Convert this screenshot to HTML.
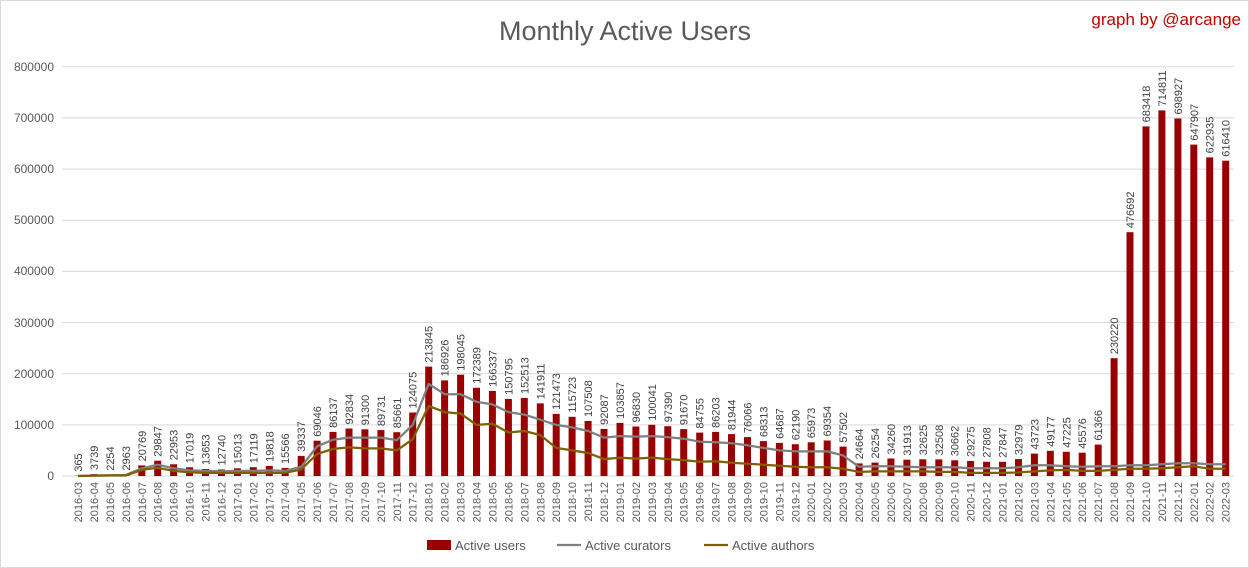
<!DOCTYPE html>
<html><head><meta charset="utf-8"><style>
html,body{margin:0;padding:0;background:#fff;}
svg{display:block;font-family:"Liberation Sans",sans-serif;}
.v{font-size:11px;fill:#404040;}
.d{font-size:11px;fill:#595959;}
.y{font-size:12px;fill:#595959;}
</style></head><body>
<svg id="s" width="1249" height="568" viewBox="0 0 1249 568" xmlns="http://www.w3.org/2000/svg">
<rect x="0.5" y="0.5" width="1248" height="567" fill="#fff" stroke="#d9d9d9"/>
<text x="625" y="40" text-anchor="middle" font-size="27" fill="#595959">Monthly Active Users</text>
<text x="1241" y="25" text-anchor="end" font-size="17" fill="#c00000">graph by @arcange</text>
<g id="grid" stroke="#d9d9d9" stroke-width="1"></g>
<g class="y" text-anchor="end">
<text x="54" y="480">0</text><text x="54" y="429">100000</text><text x="54" y="378">200000</text><text x="54" y="327">300000</text><text x="54" y="275">400000</text><text x="54" y="224">500000</text><text x="54" y="173">600000</text><text x="54" y="122">700000</text><text x="54" y="71">800000</text>
</g>
<g id="bars" fill="#990000"></g>
<polyline id="cur" fill="none" stroke="#7f7f7f" stroke-width="2.25" stroke-linejoin="round"/>
<polyline id="aut" fill="none" stroke="#7f6000" stroke-width="2.25" stroke-linejoin="round"/>
<g id="vals" class="v">
<text>365</text><text>3739</text><text>2254</text><text>2963</text><text>20769</text><text>29847</text><text>22953</text><text>17019</text><text>13653</text><text>12740</text>
<text>15013</text><text>17119</text><text>19818</text><text>15566</text><text>39337</text><text>69046</text><text>86137</text><text>92834</text><text>91300</text><text>89731</text><text>85661</text><text>124075</text>
<text>213845</text><text>186926</text><text>198045</text><text>172389</text><text>166337</text><text>150795</text><text>152513</text><text>141911</text><text>121473</text><text>115723</text><text>107508</text><text>92087</text>
<text>103857</text><text>96830</text><text>100041</text><text>97390</text><text>91670</text><text>84755</text><text>86203</text><text>81944</text><text>76066</text><text>68313</text><text>64687</text><text>62190</text>
<text>65973</text><text>69354</text><text>57502</text><text>24664</text><text>26254</text><text>34260</text><text>31913</text><text>32625</text><text>32508</text><text>30662</text><text>29275</text><text>27808</text>
<text>27847</text><text>32979</text><text>43723</text><text>49177</text><text>47225</text><text>45576</text><text>61366</text><text>230220</text><text>476692</text><text>683418</text><text>714811</text><text>698927</text>
<text>647907</text><text>622935</text><text>616410</text>
</g>
<g id="dates" class="d" text-anchor="end">
<text>2016-03</text><text>2016-04</text><text>2016-05</text><text>2016-06</text><text>2016-07</text><text>2016-08</text><text>2016-09</text><text>2016-10</text><text>2016-11</text><text>2016-12</text>
<text>2017-01</text><text>2017-02</text><text>2017-03</text><text>2017-04</text><text>2017-05</text><text>2017-06</text><text>2017-07</text><text>2017-08</text><text>2017-09</text><text>2017-10</text><text>2017-11</text><text>2017-12</text>
<text>2018-01</text><text>2018-02</text><text>2018-03</text><text>2018-04</text><text>2018-05</text><text>2018-06</text><text>2018-07</text><text>2018-08</text><text>2018-09</text><text>2018-10</text><text>2018-11</text><text>2018-12</text>
<text>2019-01</text><text>2019-02</text><text>2019-03</text><text>2019-04</text><text>2019-05</text><text>2019-06</text><text>2019-07</text><text>2019-08</text><text>2019-09</text><text>2019-10</text><text>2019-11</text><text>2019-12</text>
<text>2020-01</text><text>2020-02</text><text>2020-03</text><text>2020-04</text><text>2020-05</text><text>2020-06</text><text>2020-07</text><text>2020-08</text><text>2020-09</text><text>2020-10</text><text>2020-11</text><text>2020-12</text>
<text>2021-01</text><text>2021-02</text><text>2021-03</text><text>2021-04</text><text>2021-05</text><text>2021-06</text><text>2021-07</text><text>2021-08</text><text>2021-09</text><text>2021-10</text><text>2021-11</text><text>2021-12</text>
<text>2022-01</text><text>2022-02</text><text>2022-03</text>
</g>
<rect x="427" y="540" width="24" height="10" fill="#990000"/>
<text x="455" y="550" font-size="13" fill="#595959">Active users</text>
<line x1="557" y1="545" x2="581" y2="545" stroke="#7f7f7f" stroke-width="2.25"/>
<text x="585" y="550" font-size="13" fill="#595959">Active curators</text>
<line x1="704" y1="545" x2="728" y2="545" stroke="#7f6000" stroke-width="2.25"/>
<text x="732" y="550" font-size="13" fill="#595959">Active authors</text>
</svg>
<script>
(function(){
var NS="http://www.w3.org/2000/svg";
var x0=78,st=15.94,z=476,k=51.15/100000;
var g=document.getElementById("grid");
for(var i=0;i<=8;i++){var y=z-i*100000*k;var l=document.createElementNS(NS,"line");
l.setAttribute("x1",62);l.setAttribute("x2",1234);l.setAttribute("y1",y.toFixed(1));l.setAttribute("y2",y.toFixed(1));g.appendChild(l);}
var vals=document.querySelectorAll("#vals text"),dates=document.querySelectorAll("#dates text");
var bars=document.getElementById("bars");
for(var i=0;i<vals.length;i++){
 var v=+vals[i].textContent,x=x0+i*st,h=v*k;
 var r=document.createElementNS(NS,"rect");r.setAttribute("x",(x-3.5).toFixed(1));r.setAttribute("y",(z-h).toFixed(1));r.setAttribute("width",7);r.setAttribute("height",h.toFixed(1));bars.appendChild(r);
 vals[i].setAttribute("transform","translate("+(x+4).toFixed(1)+","+(z-h-4).toFixed(1)+") rotate(-90)");
 dates[i].setAttribute("transform","translate("+(x+4).toFixed(1)+",482) rotate(-90)");
}
var cur=[0,1,1.5,2,15,22,15,11,10,9,10,10,11,10,18,58,71,75,75,75,70,100,180,160,160,145,140,125,120,110,100,95,88,75,78,77,78,76,73,67,66,64,60,55,50,48,48,48,40,18,19,19,18,17,17,17,15,15,15,17,21,21,19,18,19,19,21,21,23,25,25,23,23];
var aut=[0,0.5,1,1,12,16,10,7,6,6,6,6,6,6,13,43,53,56,54,54,50,72,137,125,122,100,102,85,88,80,55,50,45,33,36,34,36,33,31,28,29,26,24,22,20,18,17,17,14,8,9,9,9,9,8,8,6,6,6,7,9,11,12,10,10,12,14,14,15,17,19,14,14];
function pts(a){return a.map(function(v,i){return (x0+i*st).toFixed(1)+","+(z-v*1000*k).toFixed(1);}).join(" ");}
document.getElementById("cur").setAttribute("points",pts(cur));
document.getElementById("aut").setAttribute("points",pts(aut));
})();
</script>
</body></html>
